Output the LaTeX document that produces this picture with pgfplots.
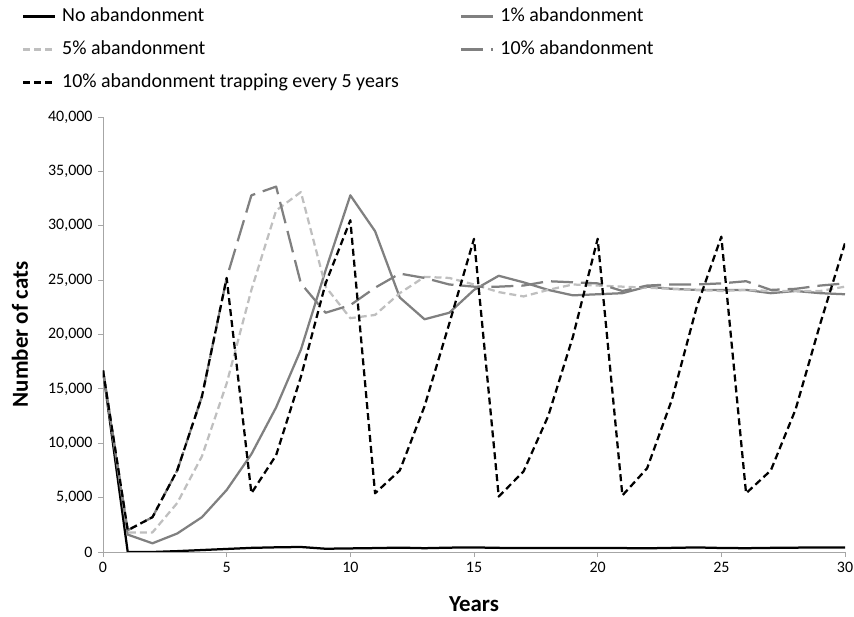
\documentclass[border=0pt]{standalone}
\usepackage{pgfplots}
\pgfplotsset{compat=1.18}
\usepackage{fontspec}
\setmainfont{Carlito}
\definecolor{midgray}{HTML}{808080}
\definecolor{lightgray}{HTML}{BFBFBF}
\definecolor{axisgray}{HTML}{A6A6A6}
\newcommand{\ls}{\rule[-11bp]{0pt}{33bp}}
\newcommand{\tf}{\fontsize{16}{18}\selectfont}

\begin{document}
\begin{tikzpicture}
\begin{axis}[
  scale only axis, width=742bp, height=435bp,
  xmin=0, xmax=30, ymin=0, ymax=40000,
  xtick={0,5,...,30}, ytick={0,5000,...,40000},
  scaled y ticks=false, scaled x ticks=false,
  xticklabel={\tf\pgfmathprintnumber[assume math mode=true]{\tick}},
  yticklabel={\tf\pgfmathprintnumber[assume math mode=true,fixed,precision=0,1000 sep={,}]{\tick}},
  axis x line*=bottom, axis y line*=left,
  axis line style={draw=axisgray, line width=0.9bp, -},
  tick style={draw=axisgray, line width=0.9bp},
  tick align=outside, major tick length=5bp,
  xticklabel style={yshift=-2bp},
  yticklabel style={xshift=-2bp},
  xlabel={Years}, ylabel={Number of cats},
  every axis x label/.style={at={(axis description cs:0.5,-0.1195)}, anchor=center,
    font=\bfseries\fontsize{23}{27}\selectfont},
  every axis y label/.style={at={(axis description cs:-0.1119,0.5)}, rotate=90, anchor=center,
    font=\bfseries\fontsize{23}{27}\selectfont},
  legend columns=2,
  legend cell align=left,
  legend image code/.code={\draw[line width=2.25bp,#1] (0bp,0bp) -- (32bp,0bp);},
  legend style={at={(rel axis cs:-0.1092,1.2690)}, anchor=north west,
    draw=none, fill=none, inner sep=0pt, outer sep=0pt,
    font=\fontsize{20}{24}\selectfont,
    nodes={inner sep=0pt, anchor=west, text depth=},
    /tikz/every odd column/.append style={column sep=6bp}},
  every axis plot/.append style={line width=2.25bp, line join=round},
]
\addplot[black] coordinates {
(0,16700)(1,0)(2,0)(3,80)(4,180)(5,280)(6,380)(7,430)(8,460)(9,300)(10,330)
(11,360)(12,400)(13,350)(14,400)(15,420)(16,380)(17,360)(18,370)(19,360)(20,370)
(21,360)(22,340)(23,380)(24,420)(25,370)(26,350)(27,380)(28,400)(29,420)(30,420)};
\addlegendentry{\makebox[398bp][l]{\ls No abandonment}}
\addplot[midgray] coordinates {
(0,16700)(1,1600)(2,800)(3,1700)(4,3200)(5,5700)(6,9000)(7,13300)(8,18600)(9,25900)(10,32800)
(11,29500)(12,23400)(13,21400)(14,22000)(15,24100)(16,25400)(17,24800)(18,24100)(19,23600)(20,23700)
(21,23800)(22,24400)(23,24200)(24,24100)(25,24100)(26,24100)(27,23800)(28,24000)(29,23800)(30,23700)};
\addlegendentry{\ls 1\% abandonment}
\addplot[lightgray, dash pattern=on 7bp off 4bp] coordinates {
(0,16700)(1,1800)(2,1800)(3,4500)(4,8800)(5,15500)(6,24100)(7,31400)(8,33100)(9,24400)(10,21500)
(11,21800)(12,23800)(13,25300)(14,25200)(15,24600)(16,23900)(17,23500)(18,24100)(19,24600)(20,24500)
(21,24400)(22,24300)(23,24200)(24,24100)(25,24000)(26,24100)(27,24000)(28,24000)(29,24000)(30,24400)};
\addlegendentry{\makebox[398bp][l]{\ls 5\% abandonment}}
\addplot[midgray, dash pattern=on 22bp off 8bp] coordinates {
(0,16700)(1,2000)(2,3200)(3,7500)(4,14300)(5,25200)(6,32800)(7,33600)(8,24700)(9,22000)(10,22700)
(11,24300)(12,25600)(13,25200)(14,24600)(15,24400)(16,24400)(17,24500)(18,24900)(19,24800)(20,24700)
(21,24000)(22,24500)(23,24600)(24,24600)(25,24700)(26,24900)(27,24100)(28,24200)(29,24500)(30,24700)};
\addlegendentry{\ls 10\% abandonment}
\addplot[black, dash pattern=on 7bp off 4bp] coordinates {
(0,16700)(1,2000)(2,3200)(3,7500)(4,14300)(5,25200)(6,5400)(7,8900)(8,16100)(9,24700)(10,30500)
(11,5400)(12,7500)(13,13400)(14,21000)(15,28800)(16,5100)(17,7400)(18,12500)(19,19800)(20,28800)
(21,5200)(22,7700)(23,14000)(24,22500)(25,29000)(26,5400)(27,7500)(28,13100)(29,21000)(30,28400)};
\addlegendentry{\makebox[398bp][l]{\ls 10\% abandonment trapping every 5 years}}
\coordinate (BL) at (rel axis cs:0,0);
\end{axis}
\pgfresetboundingbox
\path (BL) ++(-103bp,-65bp) rectangle ++(854bp,617bp);
\end{tikzpicture}
\end{document}
